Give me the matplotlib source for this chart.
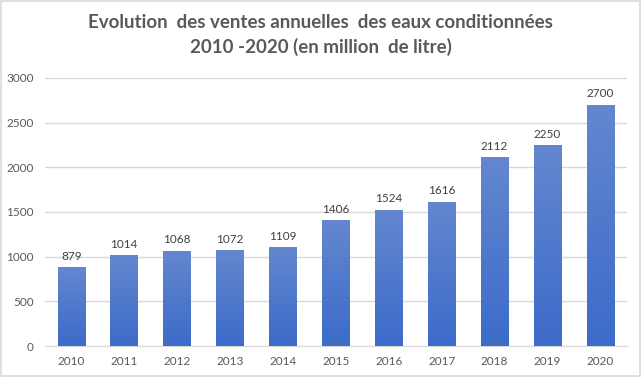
import matplotlib
matplotlib.use("Agg")
import matplotlib.pyplot as plt
from matplotlib.colors import LinearSegmentedColormap
from matplotlib.patches import Rectangle
import numpy as np

plt.rcParams['font.family'] = ['Lato', 'DejaVu Sans']

years = ['2010', '2011', '2012', '2013', '2014', '2015', '2016', '2017', '2018', '2019', '2020']
ventes = [879, 1014, 1068, 1072, 1109, 1406, 1524, 1616, 2112, 2250, 2700]
yticks = [0, 500, 1000, 1500, 2000, 2500, 3000]

fig = plt.figure(figsize=(6.41, 3.77), dpi=100)
ax = fig.add_axes([0.070, 0.0822, 0.908, 0.711])

# bar gradient: darker at bottom, lighter at top
cmap = LinearSegmentedColormap.from_list('bar', ['#3c6bc9', '#6487cf'])
grad = np.linspace(0, 1, 256).reshape(-1, 1)

x = np.arange(len(years))
width = 0.52
bars = ax.bar(x, ventes, width=width, color='none', zorder=3)
for b, v in zip(bars, ventes):
    x0 = b.get_x()
    im = ax.imshow(grad, cmap=cmap, origin='lower', aspect='auto',
                   extent=[x0, x0 + width, 0, v], zorder=3)
    im.set_clip_path(b)
    ax.text(b.get_x() + width / 2, v + 60, str(v), ha='center', va='bottom',
            fontsize=8.5, color='#404040')

ax.set_xlim(-0.5, len(years) - 0.5)
ax.set_ylim(0, 3000)
ax.set_yticks(yticks)
ax.set_xticks(x)
ax.set_xticklabels(years)
ax.grid(axis='y', color='#d9d9d9', linewidth=1, zorder=0)
ax.set_axisbelow(True)
for s in ['top', 'right', 'left']:
    ax.spines[s].set_visible(False)
ax.spines['bottom'].set_color('#d9d9d9')
ax.tick_params(axis='both', length=0, labelsize=8.5, colors='#595959')
ax.tick_params(axis='x', pad=7)
ax.tick_params(axis='y', pad=8)

fig.text(0.5, 0.94, 'Evolution  des ventes annuelles  des eaux conditionnées',
         ha='center', va='center', fontsize=13.5, fontweight='bold', color='#595959')
fig.text(0.5, 0.875, '2010 -2020 (en million  de litre)',
         ha='center', va='center', fontsize=13.5, fontweight='bold', color='#595959')

fig.patches.append(Rectangle((0.001, 0.002), 0.997, 0.995, transform=fig.transFigure,
                             fill=False, edgecolor='#d9d9d9', linewidth=1.2))

fig.savefig('out.png', dpi=100)
